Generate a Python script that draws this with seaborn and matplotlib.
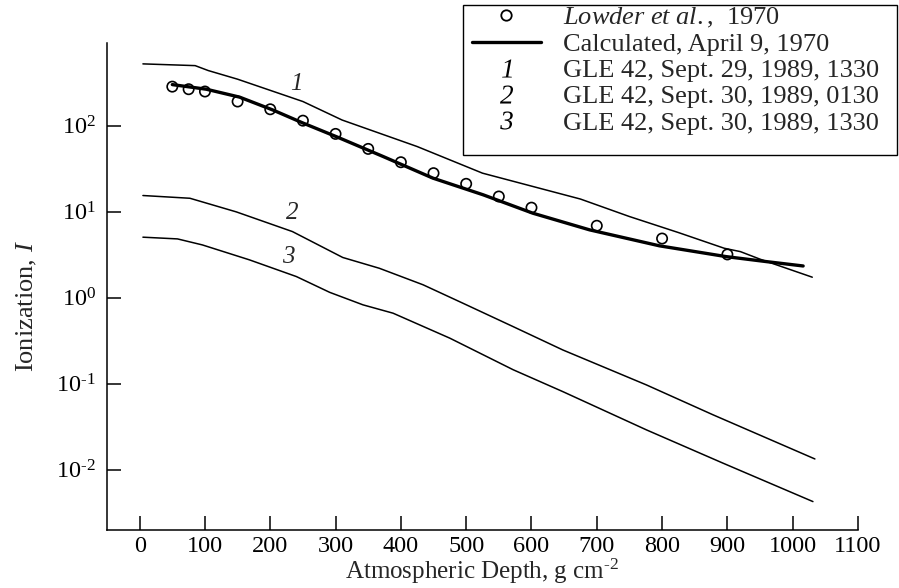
import numpy as np
import pandas as pd
import matplotlib
matplotlib.use("Agg")
import matplotlib.pyplot as plt
from matplotlib.lines import Line2D
from matplotlib.patches import Rectangle
from matplotlib.path import Path
from matplotlib.textpath import TextPath
from matplotlib.font_manager import FontProperties
from matplotlib.ticker import FixedLocator, FuncFormatter
import seaborn as sns

# ---------------------------------------------------------
# data
# ---------------------------------------------------------
# curve 1 : GLE 42, Sept. 29, 1989, 1330
depth_1 = [5, 85, 105, 150, 250, 310, 425, 525, 675, 750, 825, 895, 920, 950, 1030]
ion_1 = [526, 502, 440, 349, 192, 117, 57.5, 28.2, 14.1, 8.83, 5.75, 3.78, 3.45, 2.82, 1.74]

# curve 2 : GLE 42, Sept. 30, 1989, 0130
depth_2 = [5, 77, 148, 234, 311, 367, 434, 495, 572, 648, 776, 878, 1034]
ion_2 = [15.5, 14.4, 10.0, 5.9, 2.95, 2.21, 1.42, 0.867, 0.463, 0.248, 0.0973, 0.0437, 0.0134]

# curve 3 : GLE 42, Sept. 30, 1989, 1330
depth_3 = [5, 58, 96, 168, 240, 291, 342, 388, 475, 572, 648, 776, 893, 1031]
ion_3 = [5.08, 4.85, 4.13, 2.77, 1.77, 1.16, 0.83, 0.664, 0.34, 0.146, 0.0813, 0.0292, 0.012, 0.00428]

# calculated, April 9, 1970
depth_calc = [50, 102, 153, 204, 250, 302, 373, 449, 526, 602, 689, 796, 898, 960, 1016]
ion_calc = [302, 267, 216, 153, 108, 74.5, 44, 24.7, 15.8, 9.66, 6.18, 4.03, 3.02, 2.64, 2.35]

# Lowder et al., 1970 (measurements)
depth_obs = [50, 75, 100, 150, 200, 250, 300, 350, 400, 450, 500, 550, 600, 700, 800, 900]
ion_obs = [286, 267, 251, 192, 156, 115, 80.7, 54, 37.8, 28.2, 21.2, 15.1, 11.2, 6.9, 4.9, 3.2]

legend_labels = [
    r"$\mathit{Lowder\ et\ al.}$,  1970",
    "Calculated, April 9, 1970",
    "GLE 42, Sept. 29, 1989, 1330",
    "GLE 42, Sept. 30, 1989, 0130",
    "GLE 42, Sept. 30, 1989, 1330",
]
x_ticks = list(range(0, 1101, 100))
y_ticks = [1e-2, 1e-1, 1e0, 1e1, 1e2]

# ---------------------------------------------------------
# style
# ---------------------------------------------------------
sns.set_style("ticks")
plt.rcParams["font.family"] = ["Liberation Serif", "DejaVu Serif"]
plt.rcParams["mathtext.fontset"] = "custom"
plt.rcParams["mathtext.rm"] = "Liberation Serif"
plt.rcParams["mathtext.it"] = "Liberation Serif:italic"
plt.rcParams["axes.unicode_minus"] = False

fig = plt.figure(figsize=(8.99, 5.88), dpi=100)
ax = fig.add_axes([107 / 899, 1 - 530 / 588, (858 - 107) / 899, (530 - 43) / 588])

# ---------------------------------------------------------
# curves
# ---------------------------------------------------------
thin = dict(color="black", linewidth=1.1, estimator=None, sort=False, ax=ax)
sns.lineplot(x=depth_1, y=ion_1, **thin)
sns.lineplot(x=depth_2, y=ion_2, **thin)
sns.lineplot(x=depth_3, y=ion_3, **thin)
sns.lineplot(x=depth_calc, y=ion_calc, color="black", linewidth=2.4,
             estimator=None, sort=False, ax=ax)
sns.scatterplot(x=depth_obs, y=ion_obs, marker="o", s=55, facecolor="none",
                edgecolor="black", linewidth=1.2, ax=ax, zorder=3)

# curve numbers
for lab, (xx, yy) in zip(["1", "2", "3"], [(240, 310), (234, 9.6), (227, 2.95)]):
    ax.text(xx, yy, lab, fontsize=18, style="italic", ha="center", va="center")

ax.set_yscale("log")
ax.set_xlim(-50, 1100)
ax.set_ylim(0.002, 920)
ax.set_xticks(x_ticks)
ax.yaxis.set_major_locator(FixedLocator(y_ticks))
ax.yaxis.set_major_formatter(FuncFormatter(
    lambda v, p: r"$\mathdefault{10^{\text{%d}}}$" % int(round(np.log10(v)))))
ax.minorticks_off()
ax.tick_params(axis="both", direction="in", length=10, width=1.1,
               labelsize=17.5, colors="black")
ax.tick_params(axis="x", pad=4)
ax.tick_params(axis="y", pad=8)
for side in ["top", "right"]:
    ax.spines[side].set_visible(False)
for side in ["left", "bottom"]:
    ax.spines[side].set_linewidth(1.1)
    ax.spines[side].set_color("black")

ax.set_xlabel(r"Atmospheric Depth, g cm$^{\text{-2}}$", fontsize=18, labelpad=0)
ax.set_ylabel(r"Ionization, $\mathit{I}$", fontsize=19)
ax.yaxis.set_label_coords(-0.09, 0.46)

# ---------------------------------------------------------
# legend (frame drawn separately: the original has extra room at the bottom)
# ---------------------------------------------------------
def italic_marker(s):
    tp = TextPath((0, 0), s, size=10,
                  prop=FontProperties(family=["Liberation Serif"], style="italic"))
    v = tp.vertices.copy()
    v -= (v.min(axis=0) + v.max(axis=0)) / 2
    return Path(v, tp.codes)

handles = [
    Line2D([], [], linestyle="none", marker="o", markersize=7.5,
           markerfacecolor="none", markeredgecolor="black", markeredgewidth=1.3),
    Line2D([], [], color="black", linewidth=2.4),
]
for n in ["1", "2", "3"]:
    handles.append(Line2D([], [], linestyle="none", marker=italic_marker(n),
                          markersize=13, color="black", markeredgewidth=0))

leg = fig.legend(handles, legend_labels, loc="upper left",
                 bbox_to_anchor=(472 / 899, 1 - 6 / 588), fontsize=19,
                 frameon=False, handlelength=2.6, handletextpad=0.85,
                 labelspacing=0.1, borderpad=0.0, borderaxespad=0.0)

fig.patches.append(Rectangle((463 / 899, 1 - 155 / 588), 434 / 899, 150 / 588,
                             transform=fig.transFigure, fill=False,
                             edgecolor="black", linewidth=1.0))

fig.savefig("out.png", dpi=100)
